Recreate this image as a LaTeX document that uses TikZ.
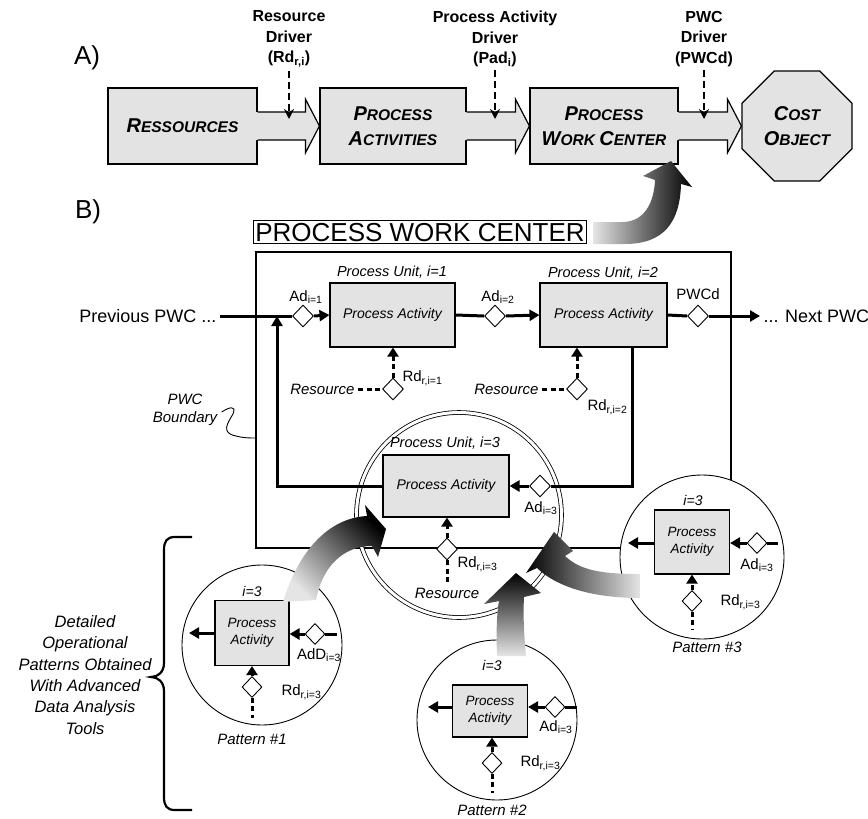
\documentclass[tikz,border=0pt]{standalone}
\usepackage{fontspec}
\setmainfont{Liberation Sans}
\usetikzlibrary{arrows.meta,shapes.geometric,calc}

\newcommand\fsz[2]{\fontsize{#1}{#2}\selectfont}
\newcommand\sccap[2]{{\fsz{20}{25}#1}{\fsz{15.5}{25}#2}}
\newcommand\blockarrow[2]{%
  \fill[blockfill] let \p1=(#1.east), \p2=(#2.west) in
    (\x1-1.5pt,\y1+14pt) -- (\x2-14pt,\y1+14pt) -- (\x2-14pt,\y1+27pt) -- (\x2,\y1)
    -- (\x2-14pt,\y1-27pt) -- (\x2-14pt,\y1-14pt) -- (\x1-1.5pt,\y1-14pt) -- cycle;
  \draw[line width=1.2pt] let \p1=(#1.east), \p2=(#2.west) in
    (\x1,\y1+14pt) -- (\x2-14pt,\y1+14pt) -- (\x2-14pt,\y1+27pt) -- (\x2,\y1)
    -- (\x2-14pt,\y1-27pt) -- (\x2-14pt,\y1-14pt) -- (\x1,\y1-14pt);}

\begin{document}
\begin{tikzpicture}[x=1pt,y=-1pt,
  blockfill/.style={fill=gray!22},
  ablock/.style={draw, line width=1.2pt, blockfill, inner sep=0pt, align=center,
    font=\bfseries\itshape\fsz{15.5}{25}},
  drvlab/.style={align=center, font=\bfseries\fsz{16}{20.5}},
  drvarrow/.style={line width=2pt, dash pattern=on 7pt off 4pt,
    -{Stealth[length=10pt,width=10pt]}},
  pbox/.style={draw, line width=1.1pt, blockfill, inner sep=0pt, align=center},
  dia/.style={diamond, draw, line width=0.9pt, fill=white, inner sep=0pt,
    minimum width=21pt, minimum height=22pt},
  flow/.style={line width=3pt},
  flowar/.style={line width=3pt, -{Triangle[length=10pt,width=11pt]}},
  resline/.style={line width=3pt, dash pattern=on 5pt off 3.5pt},
  resar/.style={resline, -{Triangle[length=9pt,width=11pt]}},
  unitlab/.style={font=\itshape\fsz{14.5}{17}},
  lab/.style={font=\fsz{15}{17}},
  itlab/.style={font=\itshape\fsz{15}{18}},
  pattxt/.style={font=\itshape\fsz{13.5}{17}},
  patcircle/.style={circle, draw, line width=0.9pt, fill=white, inner sep=0pt},
  ]
\useasboundingbox (0,0) rectangle (868,819);

% ---------------- A) cost assignment chain ----------------
\node[font=\fsz{26}{30}] (labA) at (87,58) {A)};
\node[ablock, minimum width=149pt, minimum height=76pt] (resA) at (182.5,126)
  {\sccap{R}{ESSOURCES}};
\node[ablock, minimum width=146pt, minimum height=76pt] (actA) at (393,126)
  {\sccap{P}{ROCESS}\\\sccap{A}{CTIVITIES}};
\node[ablock, minimum width=148pt, minimum height=76pt] (pwcA) at (604,126)
  {\sccap{P}{ROCESS}\\\sccap{W}{ORK} \sccap{C}{ENTER}};
\node[ablock, regular polygon, regular polygon sides=8, minimum size=119pt] (cost)
  at (797,126) {\sccap{C}{OST}\\\sccap{O}{BJECT}};

\blockarrow{resA}{actA}
\blockarrow{actA}{pwcA}
\blockarrow{pwcA}{cost}

\node[drvlab] (drv1) at (289,39) {Resource\\Driver\\(Rd\textsubscript{r,i})};
\node[drvlab] (drv2) at (495,39) {Process Activity\\Driver\\(Pad\textsubscript{i})};
\node[drvlab] (drv3) at (704,39) {PWC\\Driver\\(PWCd)};
\draw[drvarrow] (drv1.south) -- (drv1.south |- 0,119);
\draw[drvarrow] (drv2.south) -- (drv2.south |- 0,119);
\draw[drvarrow] (drv3.south) -- (drv3.south |- 0,119);

% ---------------- B) process work center ----------------
\node[font=\fsz{26}{30}] (labB) at (88,212) {B)};
\node[draw, line width=1pt, font=\fsz{26}{30}, inner xsep=2pt, inner ysep=1.5pt,
  text height=19pt, text depth=0.5pt] (pwctitle) at (420,232) {PROCESS WORK CENTER};

\node[draw, line width=1.4pt, minimum width=475pt, minimum height=296pt, inner sep=0pt]
  (pwcbox) at (493.5,400) {};
\node[circle, draw, line width=0.8pt, double, double distance=3pt, minimum size=205pt]
  (ring) at (459,515) {};

% boundary annotation
\node[itlab, align=center] (bnd) at (185,410) {PWC\\Boundary};
\draw[line width=0.9pt] (bnd.east) ++(1,2) .. controls (228,408) and (237,404) .. (233,414)
  .. controls (227,424) and (221,433) .. (236,436) .. controls (243,438) and (250,438)
  .. (pwcbox.west |- 0,438);

% process units
\node[pbox, minimum width=125pt, minimum height=64pt, font=\itshape\fsz{14}{17}] (pa1)
  at (392.5,315) {Process Activity};
\node[pbox, minimum width=127pt, minimum height=64pt, font=\itshape\fsz{14}{17}] (pa2)
  at (603.5,315) {Process Activity};
\node[pbox, minimum width=126pt, minimum height=62pt, font=\itshape\fsz{14}{17}] (pa3)
  at (446,486) {Process Activity};
\node[unitlab] (u1) at (392,272) {Process Unit, i=1};
\node[unitlab] (u2) at (603,273) {Process Unit, i=2};
\node[unitlab] (u3) at (445,443) {Process Unit, i=3};

% main flow
\node[font=\fsz{18}{20}, anchor=east] (prev) at (220,316) {Previous PWC ...};
\node[font=\fsz{18}{20}, anchor=west] (next) at (760,316) {... Next PWC};
\node[dia] (ad1) at (303,316) {};
\node[dia] (ad2) at (495,316) {};
\node[dia] (pwcd) at (698,316) {};
\node[dia] (ad3) at (540,486) {};
\node[lab] (ad1l) at (306,297) {Ad\textsubscript{i=1}};
\node[lab] (ad2l) at (498,297) {Ad\textsubscript{i=2}};
\node[lab] (pwcdl) at (698,294) {PWCd};
\node[lab] (ad3l) at (541,508) {Ad\textsubscript{i=3}};

\coordinate (J) at (277,316);
\coordinate (L) at (277,486);
\coordinate (R) at (632,486);
\draw[flow] (prev.east) -- (ad1.west);
\draw[flowar] (ad1.east) -- (pa1.west);
\draw[flow] (pa1.east) -- (ad2.west);
\draw[flowar] (ad2.east) -- (pa2.west);
\draw[flow] (pa2.east) -- (pwcd.west);
\draw[flowar] (pwcd.east) -- (next.west);
\draw[flow] (R |- pa2.south) -- (R) -- (ad3.east);
\draw[flowar] (ad3.west) -- (pa3.east);
\draw[flowar] (pa3.west) -- (L) -- (J);

% resources
\node[dia] (rd1) at (393,389) {};
\node[dia] (rd2) at (577,389) {};
\node[dia] (rd3) at (447,549) {};
\node[itlab, anchor=east] (res1) at (358,389) {Resource};
\node[itlab, anchor=east] (res2) at (542,389) {Resource};
\node[itlab] (res3) at (447,593) {Resource};
\node[lab, anchor=west] (rd1l) at (399,378) {Rd\textsubscript{r,i=1}};
\node[lab, anchor=west] (rd2l) at (584,407) {Rd\textsubscript{r,i=2}};
\node[lab, anchor=west] (rd3l) at (454,564) {Rd\textsubscript{r,i=3}};
\draw[resline] (res1.east) -- (rd1.west);
\draw[resline] (res2.east) -- (rd2.west);
\draw[resline] (rd3.south) -- (res3.north);
\draw[resar] (rd1.north) -- (rd1.north |- pa1.south);
\draw[resar] (rd2.north) -- (rd2.north |- pa2.south);
\draw[resar] (rd3.north) -- (rd3.north |- pa3.south);

% ---------------- operational patterns ----------------
% pattern 1
\node[patcircle, minimum size=160pt] (c1) at (262,645) {};
\node[pbox, minimum width=74pt, minimum height=65pt, pattxt] (p1) at (252,633)
  {Process\\Activity};
\node[pattxt, font=\itshape\fsz{14}{17}] (p1i) at (252,591) {i=3};
\node[dia, minimum width=20pt, minimum height=21pt] (p1a) at (315,634) {};
\node[dia, minimum width=20pt, minimum height=21pt] (p1r) at (252,687) {};
\coordinate (p1out) at (189,633);
\coordinate (p1in) at (337,634);
\coordinate (p1src) at (252,718);
\draw[flowar] (p1.west) -- (p1out);
\draw[flow] (p1in) -- (p1a.east);
\draw[flowar] (p1a.west) -- (p1.east |- p1a);
\draw[resar] (p1r.north) -- (p1r.north |- p1.south);
\draw[resline] (p1r.south) -- (p1src);
\node[lab] (p1al) at (319,655) {AdD\textsubscript{i=3}};
\node[lab, anchor=west] (p1rl) at (278,692) {Rd\textsubscript{r,i=3}};
\node[itlab] (p1n) at (252,739) {Pattern \#1};

% pattern 2
\node[patcircle, minimum size=160pt] (c2) at (497,720) {};
\node[pbox, minimum width=75pt, minimum height=52pt, pattxt] (p2) at (490,711)
  {Process\\Activity};
\node[pattxt, font=\itshape\fsz{14}{17}] (p2i) at (492,665) {i=3};
\node[dia, minimum width=20pt, minimum height=21pt] (p2a) at (555,707) {};
\node[dia, minimum width=20pt, minimum height=21pt] (p2r) at (492,763) {};
\coordinate (p2out) at (428,707);
\coordinate (p2in) at (577,707);
\coordinate (p2src) at (492,793);
\draw[flowar] (p2.west |- p2a) -- (p2out);
\draw[flow] (p2in) -- (p2a.east);
\draw[flowar] (p2a.west) -- (p2.east |- p2a);
\draw[resar] (p2r.north) -- (p2r.north |- p2.south);
\draw[resline] (p2r.south) -- (p2src);
\node[lab] (p2al) at (556,727) {Ad\textsubscript{i=3}};
\node[lab, anchor=west] (p2rl) at (517,763) {Rd\textsubscript{r,i=3}};
\node[itlab] (p2n) at (492,810) {Pattern \#2};

% pattern 3
\node[patcircle, minimum size=164pt] (c3) at (702,557) {};
\node[pbox, minimum width=75pt, minimum height=64pt, pattxt] (p3) at (692,542)
  {Process\\Activity};
\node[pattxt, font=\itshape\fsz{14}{17}] (p3i) at (693,500) {i=3};
\node[dia, minimum width=20pt, minimum height=21pt] (p3a) at (757,543) {};
\node[dia, minimum width=20pt, minimum height=21pt] (p3r) at (692,601) {};
\coordinate (p3out) at (628,543);
\coordinate (p3in) at (778,543);
\coordinate (p3src) at (692,629);
\draw[flowar] (p3.west |- p3a) -- (p3out);
\draw[flow] (p3in) -- (p3a.east);
\draw[flowar] (p3a.west) -- (p3.east |- p3a);
\draw[resar] (p3r.north) -- (p3r.north |- p3.south);
\draw[resline] (p3r.south) -- (p3src);
\node[lab] (p3al) at (757,565) {Ad\textsubscript{i=3}};
\node[lab, anchor=west] (p3rl) at (717,602) {Rd\textsubscript{r,i=3}};
\node[itlab] (p3n) at (707,647) {Pattern \#3};

% shaded bent arrows
\shade[left color=gray!20, right color=black]
  (593,222) -- (622,222) .. controls (645,222) and (654,202) .. (655,180)
  -- (643,176) -- (671,161) -- (692,187) -- (681,184)
  .. controls (680,222) and (664,244) .. (625,244) -- (593,244) -- cycle;
\shade[top color=black, bottom color=gray!20, shading angle=-45]
  (283,602) .. controls (298,552) and (328,518) .. (367,516)
  -- (365,505) -- (386,529) -- (378,557) -- (372,546)
  .. controls (342,546) and (322,568) .. (316,600) -- cycle;
\shade[top color=black, bottom color=gray!20]
  (497,656) .. controls (496,630) and (497,612) .. (499,601)
  -- (484,604) -- (516,573) -- (541,593) -- (524,597)
  .. controls (523,615) and (524,635) .. (526,656) -- cycle;
\shade[left color=black, right color=gray!20]
  (640,574) .. controls (600,574) and (580,570) .. (565,556)
  -- (573,551) -- (554,532) -- (526,573) -- (537,568)
  .. controls (560,590) and (600,598) .. (640,598) -- cycle;

% brace and explanation
\draw[line width=2.2pt] (192,537) -- (175,537) .. controls (167,537) and (164,541) .. (164,550)
  -- (164,663) .. controls (164,672) and (158,677) .. (151,677)
  .. controls (158,677) and (164,682) .. (164,691)
  -- (164,797) .. controls (164,806) and (167,810) .. (175,810) -- (192,810);
\node[align=center, font=\itshape\fsz{16.5}{21.3}] (detail) at (85,675)
  {Detailed\\Operational\\Patterns Obtained\\With Advanced\\Data Analysis\\Tools};
\end{tikzpicture}
\end{document}
